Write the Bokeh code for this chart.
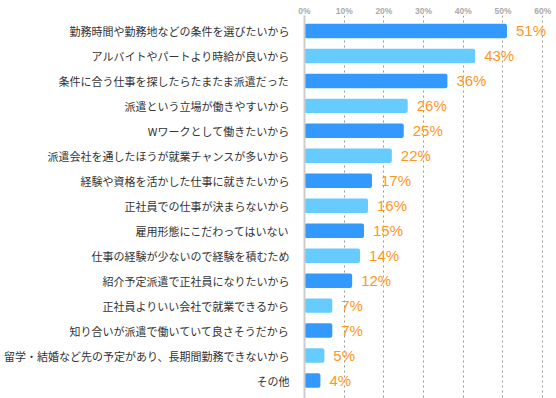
from bokeh.plotting import figure
from bokeh.models import (Range1d, FixedTicker, LinearAxis, ColumnDataSource,
                          PrintfTickFormatter, LabelSet)
from bokeh.core.properties import value
from bokeh.embed import file_html
from bokeh.resources import INLINE

categories = [
    "勤務時間や勤務地などの条件を選びたいから",
    "アルバイトやパートより時給が良いから",
    "条件に合う仕事を探したらたまたま派遣だった",
    "派遣という立場が働きやすいから",
    "Wワークとして働きたいから",
    "派遣会社を通したほうが就業チャンスが多いから",
    "経験や資格を活かした仕事に就きたいから",
    "正社員での仕事が決まらないから",
    "雇用形態にこだわってはいない",
    "仕事の経験が少ないので経験を積むため",
    "紹介予定派遣で正社員になりたいから",
    "正社員よりいい会社で就業できるから",
    "知り合いが派遣で働いていて良さそうだから",
    "留学・結婚など先の予定があり、長期間勤務できないから",
    "その他",
]
values = [51, 43, 36, 26, 25, 22, 17, 16, 15, 14, 12, 7, 7, 5, 4]
x_ticks = [0, 10, 20, 30, 40, 50, 60]

DARK = "#3399FF"
LIGHT = "#66CCFF"
idx = list(range(len(categories)))
colors = [DARK if i % 2 == 0 else LIGHT for i in idx]
labels = [f"{v}%" for v in values]

src = ColumnDataSource(dict(y=idx, v=values, c=colors, t=labels))

p = figure(width=556, height=398, output_backend="svg", toolbar_location=None,
           x_range=Range1d(0, 63.48), y_range=Range1d(14.72, -0.62),
           x_axis_location=None, y_axis_location=None,
           min_border_left=301, min_border_right=0,
           min_border_top=15, min_border_bottom=0)
p.outline_line_color = None
p.background_fill_color = "white"
p.border_fill_color = "white"

# grid
p.xgrid.ticker = FixedTicker(ticks=x_ticks[1:])
p.xgrid.grid_line_color = "#999999"
p.xgrid.grid_line_dash = "2 3"
p.xgrid.grid_line_width = 1
p.ygrid.grid_line_color = None

# top axis
top = LinearAxis(ticker=FixedTicker(ticks=x_ticks),
                 formatter=PrintfTickFormatter(format="%d%%"))
top.axis_line_color = None
top.major_tick_line_color = None
top.minor_tick_line_color = None
top.major_tick_out = 0
top.major_tick_in = 0
top.major_label_standoff = 0
top.major_label_text_font = "Liberation Sans"
top.major_label_text_font_style = "bold"
top.major_label_text_font_size = "8.5px"
top.major_label_text_color = "#aaaaaa"
p.add_layout(top, "above")

# left axis with categories
left = LinearAxis(ticker=FixedTicker(ticks=idx),
                  major_label_overrides={i: c for i, c in zip(idx, categories)})
left.axis_line_color = "#cccccc"
left.axis_line_width = 2
left.major_tick_line_color = None
left.minor_tick_line_color = None
left.major_tick_out = 0
left.major_tick_in = 0
left.major_label_standoff = 15
left.major_label_text_font = "Noto Sans CJK JP"
left.major_label_text_font_size = "11px"
left.major_label_text_color = "#333333"
p.add_layout(left, "left")

p.hbar(y="y", left=0, right="v", height=0.58, fill_color="c", line_color=None,
       source=src, border_radius=2)

lbl = LabelSet(x="v", y="y", text="t", source=src, x_offset=9,
               text_align="left", text_baseline="middle",
               text_font=value("Liberation Sans"), text_font_size="15px",
               text_color="#FF961E")
p.add_layout(lbl)

open("out.html", "w").write(file_html(p, INLINE))
